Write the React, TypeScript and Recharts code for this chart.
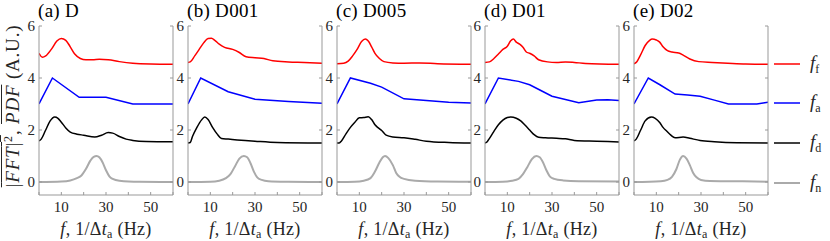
import React from 'react';
import { LineChart, Line, XAxis, YAxis } from 'recharts';

type Pt = [number, number];

const panelTitles = ['(a) D', '(b) D001', '(c) D005', '(d) D01', '(e) D02'];
const xTicks = [0, 10, 20, 30, 40, 50, 60];
const xTickLabels = [10, 30, 50];
const yTicks = [0, 2, 4, 6];

// Panel (a) D
const aRed: Pt[] = [[0,4.95],[1.5,4.8],[3,4.85],[5.5,5.1],[8,5.42],[10,5.52],[12,5.45],[14,5.2],[16,4.92],[18.5,4.75],[21,4.7],[24,4.7],[27,4.72],[31,4.7],[36,4.63],[42,4.57],[50,4.54],[60,4.53]];
const aBlue: Pt[] = [[0,3.0],[6,4.0],[18,3.26],[30,3.26],[42,3.0],[60,3.0]];
const aBlack: Pt[] = [[0,1.58],[1,1.65],[3,2.0],[5,2.35],[7,2.5],[8.5,2.45],[10,2.3],[12,2.08],[14,1.92],[17,1.84],[20,1.8],[25,1.73],[28,1.8],[31,1.9],[33,1.88],[36,1.75],[39,1.65],[42,1.6],[48,1.56],[60,1.55]];
const aGray: Pt[] = [[0,0],[10,0.02],[14,0.06],[17,0.15],[19,0.25],[21,0.5],[23,0.82],[24.5,0.97],[25.8,1.0],[27,0.95],[28.5,0.75],[30,0.45],[31.5,0.22],[33,0.12],[36,0.05],[45,0.01],[60,0]];

// Panel (b) D001
const bRed: Pt[] = [[0,4.6],[1,4.62],[3,4.85],[5,5.1],[7,5.35],[9,5.52],[10.5,5.53],[12,5.45],[14,5.3],[16.4,5.18],[20,5.1],[23,4.98],[26,4.82],[30,4.78],[34,4.75],[38,4.66],[45,4.62],[52,4.6],[60,4.57]];
const bBlue: Pt[] = [[0,3.0],[5.7,4.0],[18,3.47],[30,3.18],[45,3.1],[60,3.03]];
const bBlack: Pt[] = [[0,1.5],[1,1.52],[2,1.75],[4,2.1],[6,2.38],[7.5,2.5],[9,2.4],[11,2.1],[13,1.85],[15,1.67],[18,1.65],[22,1.62],[30,1.57],[40,1.52],[60,1.5]];
const bGray: Pt[] = [[0,0],[10,0.01],[14,0.05],[17,0.15],[19,0.3],[21,0.6],[23,0.9],[25,1.0],[26.5,0.95],[28,0.72],[29.5,0.4],[31,0.18],[33,0.08],[36,0.03],[45,0.01],[60,0]];

// Panel (c) D005
const cRed: Pt[] = [[0,4.55],[3,4.57],[5,4.65],[7,4.85],[9,5.1],[11,5.4],[12.7,5.5],[14,5.42],[15.5,5.2],[17,4.95],[19,4.75],[21,4.63],[25,4.58],[30,4.57],[37,4.58],[45,4.55],[60,4.53]];
const cBlue: Pt[] = [[0,3.0],[6,4.0],[15,3.8],[20,3.65],[30,3.2],[40,3.13],[50,3.07],[60,3.04]];
const cBlack: Pt[] = [[0,1.5],[1,1.5],[2,1.58],[4,1.85],[6,2.1],[8,2.3],[10,2.47],[12,2.48],[14,2.51],[15.5,2.4],[17,2.2],[18.5,2.08],[20,1.98],[22,1.8],[25,1.73],[30,1.7],[35,1.64],[40,1.57],[50,1.52],[60,1.5]];
const cGray: Pt[] = [[0,0],[8,0.01],[12,0.05],[15,0.15],[17,0.4],[19,0.75],[20.5,0.95],[21.5,1.0],[23,0.92],[25,0.65],[26.5,0.35],[28,0.2],[30,0.12],[35,0.05],[45,0.02],[60,0.01]];

// Panel (d) D01
const dRed: Pt[] = [[0,4.6],[2,4.62],[4,4.75],[6,4.92],[8,5.1],[10,5.22],[11.5,5.43],[12.7,5.5],[14,5.38],[15.5,5.3],[17,5.18],[18.5,5.0],[20,4.95],[22,4.85],[24,4.7],[28,4.62],[32,4.6],[36,4.62],[40,4.6],[45,4.56],[60,4.53]];
const dBlue: Pt[] = [[0,3.0],[6,4.0],[15,3.87],[20,3.74],[25,3.52],[30,3.3],[42,3.05],[50,3.15],[55,3.16],[60,3.13]];
const dBlack: Pt[] = [[0,1.5],[1,1.55],[2,1.68],[4,1.95],[6,2.2],[8,2.38],[10,2.48],[11.5,2.5],[14,2.45],[16,2.35],[18,2.18],[20,2.0],[22,1.82],[24,1.72],[27,1.7],[32,1.68],[36,1.66],[40,1.6],[50,1.57],[60,1.54]];
const dGray: Pt[] = [[0,0],[8,0.01],[12,0.05],[15,0.12],[17,0.3],[19,0.58],[21,0.88],[23,1.0],[24.5,0.95],[26,0.75],[27.5,0.45],[29,0.22],[31,0.12],[35,0.06],[42,0.03],[60,0.02]];

// Panel (e) D02
const eRed: Pt[] = [[0,4.55],[1,4.6],[3,4.9],[5,5.25],[7,5.45],[8.2,5.5],[10,5.46],[11.5,5.38],[13,5.2],[15,5.05],[17,5.0],[20,4.96],[22,4.88],[25,4.73],[29,4.63],[35,4.6],[42,4.57],[50,4.54],[60,4.53]];
const eBlue: Pt[] = [[0,3.0],[6.4,4.0],[11.6,3.74],[18.4,3.38],[24,3.35],[29.6,3.3],[36,3.15],[42.3,3.0],[55,3.0],[60,3.07]];
const eBlack: Pt[] = [[0,1.58],[1,1.65],[3,2.0],[5,2.35],[7.8,2.5],[9.5,2.45],[11.6,2.28],[13,2.1],[14.6,1.96],[16.5,1.8],[18.4,1.7],[22,1.73],[25,1.68],[29.6,1.6],[36,1.55],[46,1.51],[60,1.5]];
const eGray: Pt[] = [[0,0],[12,0.03],[15,0.08],[17,0.2],[19,0.5],[20.5,0.85],[22,1.0],[23.5,0.9],[25,0.65],[26.5,0.35],[28,0.18],[30,0.08],[34,0.04],[45,0.03],[60,0.01]];

const panelSeries: Pt[][][] = [
  [aRed, aBlue, aBlack, aGray],
  [bRed, bBlue, bBlack, bGray],
  [cRed, cBlue, cBlack, cGray],
  [dRed, dBlue, dBlack, dGray],
  [eRed, eBlue, eBlack, eGray],
];

const seriesColors = ['#ff0000', '#0000ff', '#000000', '#aaaaaa'];
const seriesWidths = [1.5, 1.5, 1.5, 2];
const seriesCurves = ['monotone', 'linear', 'monotone', 'monotone'];
const legendSubs = ['f', 'a', 'd', 'n'];

// layout
const panelLefts = [39, 188, 337, 485, 634];
const plotW = 134;
const yAxisW = 30;
const chartH = 241;
const topM = 26;
const xAxisH = 46;
const legendYs = [64, 103, 143, 183];

const FONT = '"Liberation Serif", "DejaVu Serif", serif';
const AXIS = '#999999';
const TXT = '#262626';
const TL = 3;

const BottomTick = (p: any) => {
  const { x, y, payload } = p;
  const v = payload.value;
  return (
    <g>
      <line x1={x} y1={y} x2={x} y2={y - TL} stroke={AXIS} strokeWidth={1} />
      {xTickLabels.includes(v) && (
        <text x={x} y={y + 17} textAnchor="middle" fontSize={15} fontFamily={FONT} fill={TXT}>{v}</text>
      )}
    </g>
  );
};
const TopTick = (p: any) => {
  const { x, y } = p;
  return <line x1={x} y1={y} x2={x} y2={y + TL} stroke={AXIS} strokeWidth={1} />;
};
const LeftTick = (p: any) => {
  const { x, y, payload } = p;
  return (
    <g>
      <line x1={x} y1={y} x2={x + TL} y2={y} stroke={AXIS} strokeWidth={1} />
      <text x={x - 4} y={y + 5} textAnchor="end" fontSize={15} fontFamily={FONT} fill={TXT}>{payload.value}</text>
    </g>
  );
};
const RightTick = (p: any) => {
  const { x, y } = p;
  return <line x1={x} y1={y} x2={x - TL} y2={y} stroke={AXIS} strokeWidth={1} />;
};

function Panel({ idx }: { idx: number }) {
  const series = panelSeries[idx];
  return (
    <div style={{ position: 'absolute', left: panelLefts[idx] - yAxisW, top: 0 }}>
      <LineChart width={yAxisW + plotW + 1} height={chartH} margin={{ top: topM, right: 0, bottom: 0, left: 0 }}>
        <XAxis xAxisId="b" type="number" dataKey="x" domain={[0, 60]} ticks={xTicks} allowDataOverflow
          height={xAxisH} tickSize={0} tickMargin={0} tickLine={false} axisLine={{ stroke: AXIS }} tick={<BottomTick />} interval={0} />
        <XAxis xAxisId="t" orientation="top" type="number" dataKey="x" domain={[0, 60]} ticks={xTicks} allowDataOverflow
          height={0} tickSize={0} tickMargin={0} tickLine={false} axisLine={{ stroke: AXIS }} tick={<TopTick />} interval={0} />
        <YAxis yAxisId="l" type="number" domain={[-0.5, 6]} ticks={yTicks} allowDataOverflow width={yAxisW}
          tickSize={0} tickMargin={0} tickLine={false} axisLine={{ stroke: AXIS }} tick={<LeftTick />} interval={0} />
        <YAxis yAxisId="r" orientation="right" type="number" domain={[-0.5, 6]} ticks={yTicks} allowDataOverflow width={1}
          tickSize={0} tickMargin={0} tickLine={false} axisLine={{ stroke: AXIS }} tick={<RightTick />} interval={0} />
        {series.map((s, i) => (
          <Line key={i} xAxisId="b" yAxisId="l" data={s.map(([x, y]) => ({ x, y }))} dataKey="y"
            type={seriesCurves[i] as any} stroke={seriesColors[i]} strokeWidth={seriesWidths[i]}
            dot={false} activeDot={false} isAnimationActive={false} />
        ))}
      </LineChart>
      <div style={{ position: 'absolute', left: yAxisW - 1, top: 0, fontFamily: FONT, fontSize: 19, color: '#000', whiteSpace: 'nowrap', lineHeight: '22px', letterSpacing: 0.3 }}>
        {panelTitles[idx]}
      </div>
      <div style={{ position: 'absolute', left: yAxisW + plotW / 2, top: 220, transform: 'translateX(-50%)', fontFamily: FONT, fontSize: 18, color: TXT, whiteSpace: 'nowrap', lineHeight: '18px', letterSpacing: 0.3 }}>
        <i>f</i>, 1/Δ<i>t</i><sub style={{ fontSize: 12, lineHeight: 0, verticalAlign: 'baseline', position: 'relative', top: 3 }}>a</sub> (Hz)
      </div>
    </div>
  );
}

export default function App() {
  return (
    <div style={{ position: 'absolute', left: 0, top: 0, width: 830, height: 241, background: '#fff', overflow: 'hidden' }}>
      {panelTitles.map((_, i) => <Panel key={i} idx={i} />)}
      <div style={{ position: 'absolute', left: 13, top: 106, transform: 'translate(-50%, -50%) rotate(-90deg)', fontFamily: FONT, fontSize: 19, color: TXT, whiteSpace: 'nowrap', lineHeight: '26px', letterSpacing: 0.8 }}>
        <span style={{ textDecoration: 'overline' }}>|<i>FFT</i>|<sup style={{ fontSize: 12, lineHeight: 0, verticalAlign: 'baseline', position: 'relative', top: -7 }}>2</sup></span>,{' '}
        <span style={{ textDecoration: 'overline' }}><i>PDF</i></span> (A.U.)
      </div>
      <svg style={{ position: 'absolute', left: 0, top: 0 }} width={830} height={241}>
        {legendSubs.map((s, i) => (
          <g key={s}>
            <line x1={774} x2={800} y1={legendYs[i]} y2={legendYs[i]} stroke={seriesColors[i]} strokeWidth={seriesWidths[i]} />
            <text x={810} y={legendYs[i] + 5} fontFamily={FONT} fontSize={19} fill={TXT}>
              <tspan fontStyle="italic">f</tspan>
              <tspan fontSize={12} dy={4}>{s}</tspan>
            </text>
          </g>
        ))}
      </svg>
    </div>
  );
}
